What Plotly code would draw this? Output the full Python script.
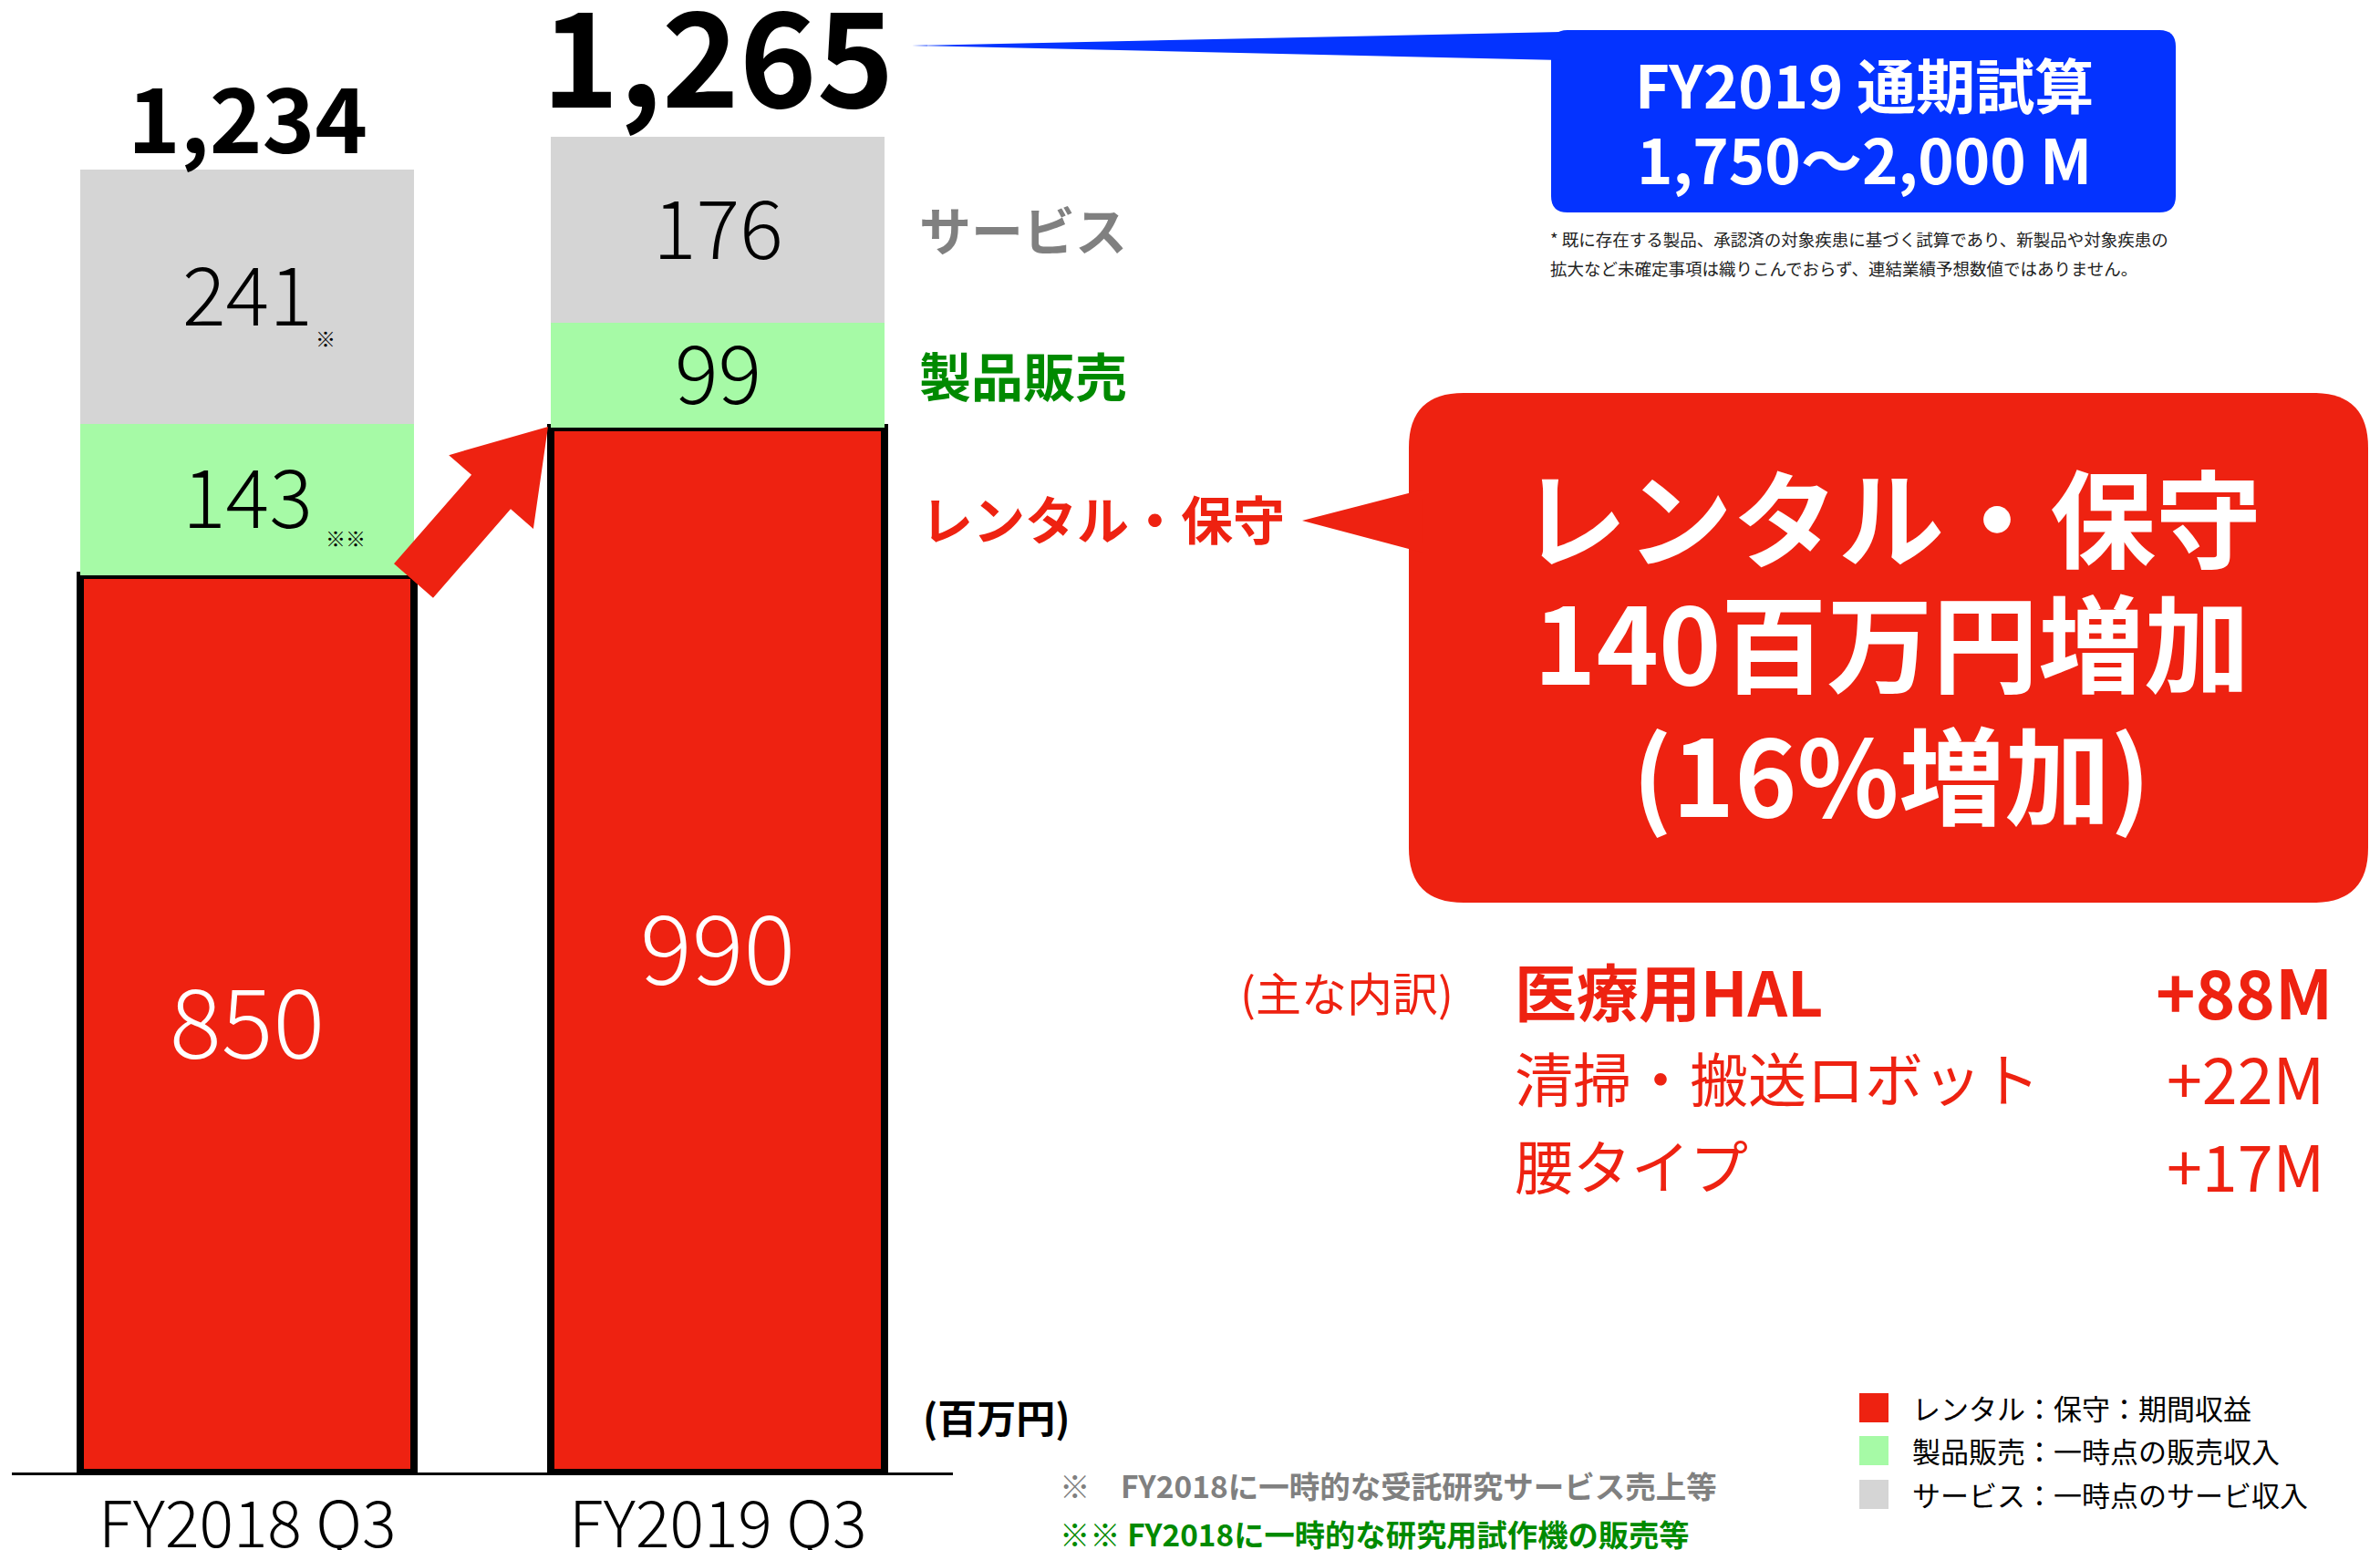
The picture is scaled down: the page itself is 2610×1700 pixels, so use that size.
import math
import plotly.graph_objects as go

# ---------------- data ----------------
categories = ["FY2018 Q3", "FY2019 Q3"]
rental = [850, 990]      # レンタル・保守
product = [143, 99]      # 製品販売
service = [241, 176]     # サービス
totals = [1234, 1265]
segment_notes_service = ["※", ""]
segment_notes_product = ["※※", ""]

series_names = ["レンタル・保守", "製品販売", "サービス"]
legend_texts = ["レンタル：保守：期間収益", "製品販売：一時点の販売収入", "サービス：一時点のサービ収入"]
breakdown_items = ["医療用HAL", "清掃・搬送ロボット", "腰タイプ"]
breakdown_values = ["+88M", "+22M", "+17M"]

# ---------------- style ----------------
W, H = 2610, 1700
FONT = "Noto Sans CJK JP"
RED = "#EE2211"
GREEN = "#A6FAA6"
GRAY = "#D5D5D5"
BLUE = "#0433FF"
GREEN_TXT = "#008A00"
GRAY_TXT = "#808080"

PX_PER_UNIT = 1.158
BASE_PX = 1615
X0_PX, X1_PX = 13, 1045


def X(px):
    return px / W


def Y(py):
    return 1 - py / H


fig = go.Figure()
colors = [RED, GREEN, GRAY]
for name, vals, col in zip(series_names, [rental, product, service], colors):
    fig.add_trace(go.Bar(
        x=categories, y=vals, name=name, width=0.711,
        marker=dict(color=col,
                    line=dict(color="black", width=8 if col == RED else 0)),
        hoverinfo="x+y+name",
    ))

ann = []

# segment labels (centered in each segment)
for i, cat in enumerate(categories):
    r, p, s = rental[i], product[i], service[i]
    ann.append(dict(x=cat, y=r / 2, xref="x", yref="y", text=str(r), showarrow=False,
                    font=dict(family=FONT, size=106, color="white", weight=300),
                    yanchor="middle", yshift=8))
    ann.append(dict(x=cat, y=r + p / 2, xref="x", yref="y", text=str(p), showarrow=False,
                    font=dict(family=FONT, size=89, color="black", weight=300),
                    yanchor="middle", yshift=7))
    ann.append(dict(x=cat, y=r + p + s / 2, xref="x", yref="y", text=str(s), showarrow=False,
                    font=dict(family=FONT, size=89, color="black", weight=300),
                    yanchor="middle", yshift=7))
    if segment_notes_service[i]:
        ann.append(dict(x=cat, y=r + p + s / 2, xref="x", yref="y", text=segment_notes_service[i],
                        showarrow=False, font=dict(family=FONT, size=22, color="black"),
                        xshift=86, yshift=-44))
    if segment_notes_product[i]:
        ann.append(dict(x=cat, y=r + p / 2, xref="x", yref="y", text=segment_notes_product[i],
                        showarrow=False, font=dict(family=FONT, size=22, color="black"),
                        xshift=108, yshift=-41))

# totals
total_sizes = [98, 144]
total_shifts = [61, 95]
for i, cat in enumerate(categories):
    ann.append(dict(x=cat, y=totals[i], xref="x", yref="y", text=f"<b>{totals[i]:,}</b>",
                    showarrow=False, yanchor="middle", yshift=total_shifts[i],
                    font=dict(family=FONT, size=total_sizes[i], color="black")))

# category labels
for cat in categories:
    ann.append(dict(x=cat, y=Y(1666), xref="x", yref="paper", text=cat, showarrow=False,
                    xanchor="center", yanchor="middle",
                    font=dict(family=FONT, size=70, color="black", weight=300)))

# series labels right of bars
ann.append(dict(x=X(1006), y=Y(250), xref="paper", yref="paper", text="<b>サービス</b>",
                showarrow=False, xanchor="left", yanchor="middle",
                font=dict(family=FONT, size=57, color=GRAY_TXT)))
ann.append(dict(x=X(1006), y=Y(410), xref="paper", yref="paper", text="<b>製品販売</b>",
                showarrow=False, xanchor="left", yanchor="middle",
                font=dict(family=FONT, size=57, color=GREEN_TXT)))
ann.append(dict(x=X(1008), y=Y(567), xref="paper", yref="paper", text="<b>レンタル・保守</b>",
                showarrow=False, xanchor="left", yanchor="middle",
                font=dict(family=FONT, size=57, color=RED)))

# blue callout text
ann.append(dict(x=X(2044), y=Y(91), xref="paper", yref="paper", text="<b>FY2019 通期試算</b>",
                showarrow=False, xanchor="center", yanchor="middle",
                font=dict(family=FONT, size=65, color="white")))
ann.append(dict(x=X(2044), y=Y(172), xref="paper", yref="paper", text="<b>1,750〜2,000 M</b>",
                showarrow=False, xanchor="center", yanchor="middle",
                font=dict(family=FONT, size=67, color="white")))
ann.append(dict(x=X(1698), y=Y(262), xref="paper", yref="paper",
                text="* 既に存在する製品、承認済の対象疾患に基づく試算であり、新製品や対象疾患の",
                showarrow=False, xanchor="left", yanchor="middle",
                font=dict(family=FONT, size=18.5, color="#222222")))
ann.append(dict(x=X(1698), y=Y(294), xref="paper", yref="paper",
                text="拡大など未確定事項は織りこんでおらず、連結業績予想数値ではありません。",
                showarrow=False, xanchor="left", yanchor="middle",
                font=dict(family=FONT, size=18.5, color="#222222")))

# red callout text
for txt, yy in [("レンタル・保守", 563), ("140百万円増加", 700), ("(16%増加)", 845)]:
    ann.append(dict(x=X(2074), y=Y(yy), xref="paper", yref="paper", text=f"<b>{txt}</b>",
                    showarrow=False, xanchor="center", yanchor="middle",
                    font=dict(family=FONT, size=116, color="white")))

# breakdown
ann.append(dict(x=X(1358), y=Y(1087), xref="paper", yref="paper", text="(主な内訳)",
                showarrow=False, xanchor="left", yanchor="middle",
                font=dict(family=FONT, size=50, color=RED)))
rows_y = [1085, 1180, 1276]
rows_right = [2560, 2551, 2551]
item_sizes = [68, 64, 64]
val_sizes = [74, 70, 70]
for k, (item, val) in enumerate(zip(breakdown_items, breakdown_values)):
    b0, b1 = ("<b>", "</b>") if k == 0 else ("", "")
    ann.append(dict(x=X(1659), y=Y(rows_y[k]), xref="paper", yref="paper", text=f"{b0}{item}{b1}",
                    showarrow=False, xanchor="left", yanchor="middle",
                    font=dict(family=FONT, size=item_sizes[k], color=RED)))
    ann.append(dict(x=X(rows_right[k]), y=Y(rows_y[k]), xref="paper", yref="paper",
                    text=f"{b0}{val}{b1}", showarrow=False, xanchor="right", yanchor="middle",
                    font=dict(family=FONT, size=val_sizes[k], color=RED)))

# unit label and footnotes
ann.append(dict(x=X(1010), y=Y(1553), xref="paper", yref="paper", text="<b>(百万円)</b>",
                showarrow=False, xanchor="left", yanchor="middle",
                font=dict(family=FONT, size=43, color="black")))
ann.append(dict(x=X(1160), y=Y(1628), xref="paper", yref="paper",
                text="<b>※　FY2018に一時的な受託研究サービス売上等</b>",
                showarrow=False, xanchor="left", yanchor="middle",
                font=dict(family=FONT, size=33.5, color=GRAY_TXT)))
ann.append(dict(x=X(1160), y=Y(1681), xref="paper", yref="paper",
                text="<b>※※ FY2018に一時的な研究用試作機の販売等</b>",
                showarrow=False, xanchor="left", yanchor="middle",
                font=dict(family=FONT, size=33.3, color=GREEN_TXT)))

# legend (manual)
shapes = []
leg_y = [1544, 1591, 1639]
for k, (txt, col) in enumerate(zip(legend_texts, colors)):
    shapes.append(dict(type="rect", xref="paper", yref="paper", x0=X(2039), x1=X(2071),
                       y0=Y(leg_y[k] - 16), y1=Y(leg_y[k] + 16), fillcolor=col, line=dict(width=0)))
    ann.append(dict(x=X(2095), y=Y(leg_y[k] - 1), xref="paper", yref="paper", text=txt,
                    showarrow=False, xanchor="left", yanchor="middle",
                    font=dict(family=FONT, size=31, color="black")))


def to_path(points, closed=True):
    s = ""
    for cmd, pts in points:
        coords = " ".join(f"{X(a):.5f},{Y(b):.5f}" for a, b in pts)
        s += f"{cmd} {coords} "
    return s + ("Z" if closed else "")


def rounded_rect(x0, y0, x1, y1, r):
    return to_path([
        ("M", [(x0 + r, y0)]), ("L", [(x1 - r, y0)]), ("Q", [(x1, y0), (x1, y0 + r)]),
        ("L", [(x1, y1 - r)]), ("Q", [(x1, y1), (x1 - r, y1)]), ("L", [(x0 + r, y1)]),
        ("Q", [(x0, y1), (x0, y1 - r)]), ("L", [(x0, y0 + r)]), ("Q", [(x0, y0), (x0 + r, y0)]),
    ])


# blue callout
shapes.append(dict(type="path", xref="paper", yref="paper", path=rounded_rect(1701, 33, 2386, 233, 18),
                   fillcolor=BLUE, line=dict(width=0), layer="below"))
shapes.append(dict(type="path", xref="paper", yref="paper",
                   path=to_path([("M", [(1000, 50)]), ("L", [(1712, 35)]), ("L", [(1712, 66)])]),
                   fillcolor=BLUE, line=dict(width=0), layer="below"))
# red callout
shapes.append(dict(type="path", xref="paper", yref="paper", path=rounded_rect(1545, 431, 2597, 990, 60),
                   fillcolor=RED, line=dict(width=0), layer="below"))
shapes.append(dict(type="path", xref="paper", yref="paper",
                   path=to_path([("M", [(1428, 571)]), ("L", [(1560, 537)]), ("L", [(1560, 606)])]),
                   fillcolor=RED, line=dict(width=0), layer="below"))

# block arrow between bars
tx, ty = 453.5, 637.0
hx, hy = 601.0, 468.0
L = math.hypot(hx - tx, hy - ty)
dx, dy = (hx - tx) / L, (hy - ty) / L
nx, ny = -dy, dx
sw, hw, hl = 28.5, 61.5, 95.0
nkx, nky = tx + dx * (L - hl), ty + dy * (L - hl)
pts = [(tx - nx * sw, ty - ny * sw), (nkx - nx * sw, nky - ny * sw), (nkx - nx * hw, nky - ny * hw),
       (hx, hy), (nkx + nx * hw, nky + ny * hw), (nkx + nx * sw, nky + ny * sw),
       (tx + nx * sw, ty + ny * sw)]
shapes.append(dict(type="path", xref="paper", yref="paper",
                   path=to_path([("M", [pts[0]])] + [("L", [p]) for p in pts[1:]]),
                   fillcolor=RED, line=dict(width=0), layer="above"))

fig.update_layout(
    width=W, height=H,
    margin=dict(l=0, r=0, t=0, b=0),
    barmode="stack",
    showlegend=False,
    paper_bgcolor="white", plot_bgcolor="white",
    font=dict(family=FONT),
    xaxis=dict(domain=[X0_PX / W, X1_PX / W], range=[-0.5, 1.5], showline=True, linecolor="black",
               linewidth=3, showticklabels=False, ticks="", showgrid=False, zeroline=False,
               fixedrange=True),
    yaxis=dict(domain=[1 - BASE_PX / H, 1], range=[0, BASE_PX / PX_PER_UNIT], visible=False,
               showgrid=False, zeroline=False, fixedrange=True),
    annotations=ann,
    shapes=shapes,
)

fig.write_html(
    "out.html",
    config={"displayModeBar": False},
    post_script="document.body.style.margin='0';document.body.style.padding='0';"
                "document.documentElement.style.overflow='hidden';",
)
